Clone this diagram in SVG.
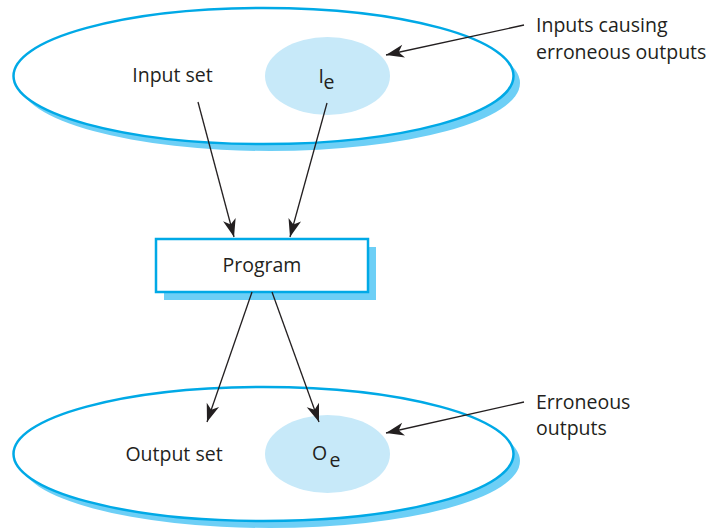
<svg xmlns="http://www.w3.org/2000/svg" width="712" height="530" viewBox="0 0 712 530">
<defs>
<style>
.shadow{fill:#6dcff6;stroke:none}
.set{fill:#ffffff;stroke:#00a9e6;stroke-width:2.5}
.sub{fill:#c7e9f9;stroke:none}
.box{fill:#ffffff;stroke:#00a9e6;stroke-width:2.5}
text{font-family:"Open Sans","Noto Sans","Liberation Sans",sans-serif;font-size:19.5px;fill:#231f20}
.conn line{stroke:#231f20;stroke-width:1.3;fill:none}
</style>
<marker id="ah" markerUnits="userSpaceOnUse" markerWidth="24" markerHeight="16" viewBox="-20 -8 22 16" refX="0" refY="0" orient="auto">
<path d="M0,0 L-18,-6.5 L-13,0 L-18,6.5 Z" fill="#231f20"/>
</marker>
</defs>
<g id="input-set">
<ellipse class="shadow" cx="270" cy="83" rx="250" ry="68"/>
<ellipse class="set" cx="263.5" cy="76" rx="250" ry="68"/>
<text x="172.5" y="82" text-anchor="middle">Input set</text>
</g>
<g id="ie">
<ellipse class="sub" cx="327.5" cy="76" rx="62.5" ry="39"/>
<text x="318.5" y="83">I</text>
<text x="323.5" y="88.5">e</text>
</g>
<g id="program">
<rect class="shadow" x="164" y="247" width="212" height="53"/>
<rect class="box" x="156" y="239" width="212" height="53"/>
<text x="262" y="272" text-anchor="middle">Program</text>
</g>
<g id="output-set">
<ellipse class="shadow" cx="270" cy="461" rx="250" ry="67"/>
<ellipse class="set" cx="263.5" cy="454" rx="250" ry="67"/>
<text x="174" y="460.5" text-anchor="middle">Output set</text>
</g>
<g id="oe">
<ellipse class="sub" cx="327.5" cy="454" rx="62.5" ry="39"/>
<text x="312" y="460">O</text>
<text x="329.5" y="467">e</text>
</g>
<g id="label-inputs-causing">
<text x="536" y="32">Inputs causing</text>
<text x="536" y="59">erroneous outputs</text>
</g>
<g id="label-erroneous">
<text x="536" y="409">Erroneous</text>
<text x="536" y="435">outputs</text>
</g>
<g class="conn" id="connectors">
<line x1="198" y1="102" x2="234" y2="237" marker-end="url(#ah)"/>
<line x1="327" y1="103" x2="290" y2="237" marker-end="url(#ah)"/>
<line x1="252" y1="292" x2="207" y2="422" marker-end="url(#ah)"/>
<line x1="272" y1="292" x2="319" y2="422" marker-end="url(#ah)"/>
<line x1="524" y1="25" x2="386" y2="55" marker-end="url(#ah)"/>
<line x1="524" y1="402" x2="386" y2="433" marker-end="url(#ah)"/>
</g>
</svg>
